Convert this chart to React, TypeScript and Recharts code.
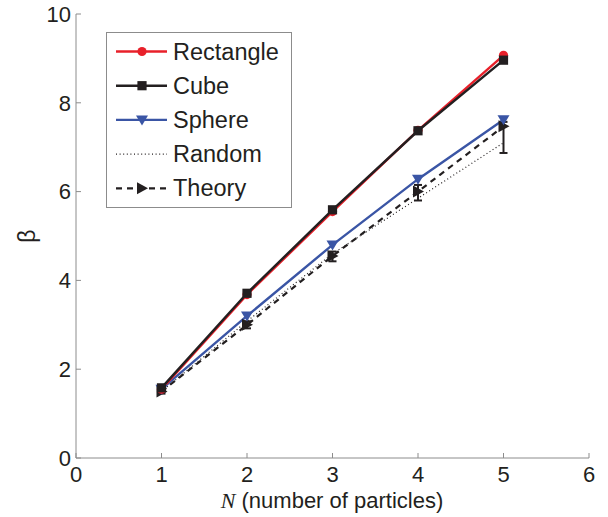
import React from 'react';
import { LineChart, Line, XAxis, YAxis, ErrorBar, Legend } from 'recharts';

// Number of particles N and the measured β for each configuration
const particles = [1, 2, 3, 4, 5];
const rectangle = [1.55, 3.68, 5.55, 7.38, 9.07];
const cube = [1.58, 3.71, 5.59, 7.37, 8.96];
const sphere = [1.55, 3.2, 4.8, 6.28, 7.62];
const random = [1.5, 3.08, 4.6, 5.85, 7.1];
const theory = [1.5, 3.0, 4.55, 6.0, 7.47];
const theoryErrLow = [0.05, 0.08, 0.12, 0.2, 0.6];
const theoryErrHigh = [0.05, 0.08, 0.1, 0.15, 0.1];

const xTicks = [0, 1, 2, 3, 4, 5, 6];
const yTicks = [0, 2, 4, 6, 8, 10];

const RED = '#e8202a';
const BLACK = '#231f20';
const BLUE = '#3a55a5';
const AXIS = '#8c8c8c';
const FONT = '"Liberation Sans", Arial, Helvetica, sans-serif';

const data = particles.map((n, i) => ({
  n,
  rectangle: rectangle[i],
  cube: cube[i],
  sphere: sphere[i],
  random: random[i],
  theory: theory[i],
  theoryErr: [theoryErrLow[i], theoryErrHigh[i]],
}));

const CircleDot = (p: any) => (
  <circle key={p.key ?? `c${p.index}`} cx={p.cx} cy={p.cy} r={4.6} fill={RED} stroke="none" />
);
const SquareDot = (p: any) => (
  <rect key={p.key ?? `s${p.index}`} x={p.cx - 4.6} y={p.cy - 4.6} width={9.2} height={9.2} fill={BLACK} />
);
const TriDownDot = (p: any) => (
  <polygon
    key={p.key ?? `t${p.index}`}
    points={`${p.cx - 6},${p.cy - 4.5} ${p.cx + 6},${p.cy - 4.5} ${p.cx},${p.cy + 5.5}`}
    fill={BLUE}
  />
);
const TriRightDot = (p: any) => (
  <polygon
    key={p.key ?? `r${p.index}`}
    points={`${p.cx - 5},${p.cy - 6} ${p.cx - 5},${p.cy + 6} ${p.cx + 6},${p.cy}`}
    fill={BLACK}
  />
);

const legendRows = [
  { name: 'Rectangle', color: RED, dash: undefined, width: 2.4, marker: 'circle' },
  { name: 'Cube', color: BLACK, dash: undefined, width: 2.4, marker: 'square' },
  { name: 'Sphere', color: BLUE, dash: undefined, width: 2.4, marker: 'tri' },
  { name: 'Random', color: BLACK, dash: '1 2.6', width: 1.2, marker: 'none' },
  { name: 'Theory', color: BLACK, dash: '6 5', width: 2.2, marker: 'arrow' },
];

const LegendBox = () => (
  <svg width={186} height={176} style={{ display: 'block' }}>
    <rect x={0.5} y={0.5} width={185} height={175} fill="#fff" stroke={AXIS} strokeWidth={1} />
    {legendRows.map((r, i) => {
      const y = 19.5 + i * 34.2;
      const mx = 36;
      return (
        <g key={r.name}>
          <line x1={10} x2={61} y1={y} y2={y} stroke={r.color} strokeWidth={r.width} strokeDasharray={r.dash} />
          {r.marker === 'circle' && <circle cx={mx} cy={y} r={4.6} fill={RED} />}
          {r.marker === 'square' && <rect x={mx - 4.6} y={y - 4.6} width={9.2} height={9.2} fill={BLACK} />}
          {r.marker === 'tri' && (
            <polygon points={`${mx - 6},${y - 4.5} ${mx + 6},${y - 4.5} ${mx},${y + 5.5}`} fill={BLUE} />
          )}
          {r.marker === 'arrow' && (
            <polygon points={`${mx - 5},${y - 6} ${mx - 5},${y + 6} ${mx + 6},${y}`} fill={BLACK} />
          )}
          <text x={67} y={y + 8} fontFamily={FONT} fontSize={23.5} fill={BLACK}>
            {r.name}
          </text>
        </g>
      );
    })}
  </svg>
);

const tickStyle = { fill: BLACK, fontSize: 22, fontFamily: FONT };

export default function App() {
  return (
    <div style={{ position: 'absolute', left: 0, top: 0, width: 608, height: 517, background: '#fff' }}>
      <LineChart width={608} height={517} data={data} margin={{ top: 14, right: 19, bottom: 0, left: 0 }}>
        <XAxis
          type="number"
          dataKey="n"
          domain={[0, 6]}
          ticks={xTicks}
          height={59}
          stroke={AXIS}
          tickSize={-5}
          tickMargin={13}
          tick={tickStyle}
          label={{
            content: () => (
              <text x={332} y={508} textAnchor="middle" fontFamily={FONT} fontSize={22} fill={BLACK}>
                <tspan fontFamily='"Liberation Serif", "Times New Roman", serif' fontStyle="italic">N</tspan>
                <tspan> (number of particles)</tspan>
              </text>
            ),
          }}
        />
        <XAxis
          xAxisId="top"
          orientation="top"
          type="number"
          dataKey="n"
          domain={[0, 6]}
          ticks={xTicks}
          height={0}
          stroke={AXIS}
          tickSize={-5}
          tickFormatter={() => ''}
        />
        <YAxis
          type="number"
          domain={[0, 10]}
          ticks={yTicks}
          width={76}
          stroke={AXIS}
          tickSize={-5}
          tickMargin={10}
          tick={tickStyle}
          label={{
            content: () => (
              <text
                x={27}
                y={236}
                textAnchor="middle"
                dominantBaseline="central"
                transform="rotate(-90 27 236)"
                fontFamily={FONT}
                fontSize={23}
                fill={BLACK}
              >
                β
              </text>
            ),
          }}
        />
        <YAxis
          yAxisId="right"
          orientation="right"
          type="number"
          domain={[0, 10]}
          ticks={yTicks}
          width={0}
          stroke={AXIS}
          tickSize={-5}
          tickFormatter={() => ''}
        />
        <Line
          dataKey="random"
          stroke={BLACK}
          strokeWidth={1.2}
          strokeDasharray="1 2.6"
          dot={false}
          isAnimationActive={false}
        />
        <Line
          dataKey="theory"
          stroke={BLACK}
          strokeWidth={2.2}
          strokeDasharray="6 5"
          dot={TriRightDot}
          isAnimationActive={false}
        >
          <ErrorBar dataKey="theoryErr" direction="y" width={4} stroke={BLACK} strokeWidth={2} />
        </Line>
        <Line dataKey="sphere" stroke={BLUE} strokeWidth={2.4} dot={TriDownDot} isAnimationActive={false} />
        <Line dataKey="rectangle" stroke={RED} strokeWidth={2.4} dot={CircleDot} isAnimationActive={false} />
        <Line dataKey="cube" stroke={BLACK} strokeWidth={2.4} dot={SquareDot} isAnimationActive={false} />
        <Legend
          layout="vertical"
          align="center"
          verticalAlign="middle"
          content={() => <LegendBox />}
          wrapperStyle={{ left: 106, top: 32, width: 186, height: 176, bottom: 'auto', right: 'auto' }}
        />
      </LineChart>
    </div>
  );
}
